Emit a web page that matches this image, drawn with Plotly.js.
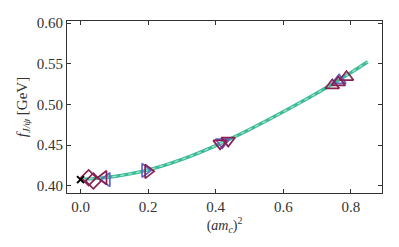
<!DOCTYPE html>
<html>
<head>
<meta charset="utf-8">
<script src="https://cdn.plot.ly/plotly-3.0.1.min.js"></script>
<style>html,body{margin:0;padding:0;background:#fff}#chart{width:399px;height:247px}</style>
</head>
<body>
<div id="chart"></div>
<script>
// Fit curve
var fitX = [0, 0.05, 0.1, 0.15, 0.2, 0.25, 0.3, 0.35, 0.4, 0.45, 0.5, 0.55, 0.6, 0.65, 0.7, 0.75, 0.8, 0.85];
var fitY = [0.408, 0.409, 0.4113, 0.4148, 0.4195, 0.4254, 0.4324, 0.4404, 0.4493, 0.459, 0.4692, 0.4798, 0.4908, 0.5022, 0.514, 0.5263, 0.539, 0.5524];

// Continuum point
var contX = [0.0];
var contY = [0.4074];

// Maroon series
var diamondX = [0.024, 0.038];
var diamondY = [0.4098, 0.4058];
var leftMX = [0.068];
var leftMY = [0.4098];
var rightMX = [0.200];
var rightMY = [0.4176];
var downMX = [0.413, 0.437];
var downMY = [0.452, 0.4555];
var upMX = [0.745, 0.763, 0.787];
var upMY = [0.5234, 0.527, 0.5336];

// Blue series
var leftBX = [0.078];
var leftBY = [0.4074];
var rightBX = [0.191];
var rightBY = [0.4188];
var downBX = [0.420];
var downBY = [0.4535];
var upBX = [0.765];
var upBY = [0.5295];

var xTicks = [0.0, 0.2, 0.4, 0.6, 0.8];
var xTickText = ['0.0', '0.2', '0.4', '0.6', '0.8'];
var yTicks = [0.40, 0.45, 0.50, 0.55, 0.60];
var yTickText = ['0.40', '0.45', '0.50', '0.55', '0.60'];

var maroon = '#8a1f52';
var blue = '#5f66cc';

function mk(x, y, sym, col, size) {
  return {x: x, y: y, type: 'scatter', mode: 'markers', showlegend: false, hoverinfo: 'skip',
    marker: {symbol: sym, size: size || 10, color: col, line: {color: col, width: 1.7}}};
}

var traces = [
  {x: fitX, y: fitY, type: 'scatter', mode: 'lines', showlegend: false, hoverinfo: 'skip',
   line: {color: '#3dbb98', width: 3.4, shape: 'spline'}},
  {x: fitX, y: fitY, type: 'scatter', mode: 'lines', showlegend: false, hoverinfo: 'skip',
   line: {color: '#a6e2cf', width: 1.3, dash: '4px,4px', shape: 'spline'}},
  mk(leftBX, leftBY, 'triangle-left-open', blue, 12),
  mk(rightBX, rightBY, 'triangle-right-open', blue, 12),
  mk(downBX, downBY, 'triangle-down-open', blue, 12),
  mk(upBX, upBY, 'triangle-up-open', blue, 12),
  mk(diamondX, diamondY, 'diamond-open', maroon, 12),
  mk(leftMX, leftMY, 'triangle-left-open', maroon, 12),
  mk(rightMX, rightMY, 'triangle-right-open', maroon, 12),
  mk(downMX, downMY, 'triangle-down-open', maroon, 12),
  mk(upMX, upMY, 'triangle-up-open', maroon, 12),
  {x: contX, y: contY, type: 'scatter', mode: 'markers', showlegend: false, hoverinfo: 'skip',
   marker: {symbol: 'x-thin-open', size: 7, color: '#000', line: {color: '#000', width: 2}}}
];

var tickFont = {family: 'Liberation Serif, serif', size: 15, color: '#333'};

var layout = {
  width: 399, height: 247,
  margin: {l: 66.7, r: 17.3, t: 20.7, b: 54.3},
  paper_bgcolor: '#fff', plot_bgcolor: '#fff',
  xaxis: {
    range: [-0.04, 0.892], tickvals: xTicks, ticktext: xTickText,
    ticks: 'inside', ticklen: 4, tickwidth: 1, tickcolor: '#333',
    showline: true, linecolor: '#333', linewidth: 1, mirror: 'ticks',
    showgrid: false, zeroline: false, tickfont: tickFont,
    title: {text: '(<i>am</i><sub><i>c</i></sub>)<sup>2</sup>', font: {family: 'Liberation Serif, serif', size: 14, color: '#333'}, standoff: 3}
  },
  yaxis: {
    range: [0.391, 0.6025], tickvals: yTicks, ticktext: yTickText,
    ticks: 'inside', ticklen: 4, tickwidth: 1, tickcolor: '#333',
    showline: true, linecolor: '#333', linewidth: 1, mirror: 'ticks',
    showgrid: false, zeroline: false, tickfont: tickFont,
    title: {text: '<i>f</i><sub><i>J/ψ</i></sub> [GeV]', font: {family: 'Liberation Serif, serif', size: 15, color: '#333'}, standoff: 5}
  }
};

Plotly.newPlot('chart', traces, layout, {displayModeBar: false, staticPlot: true});
</script>
</body>
</html>
